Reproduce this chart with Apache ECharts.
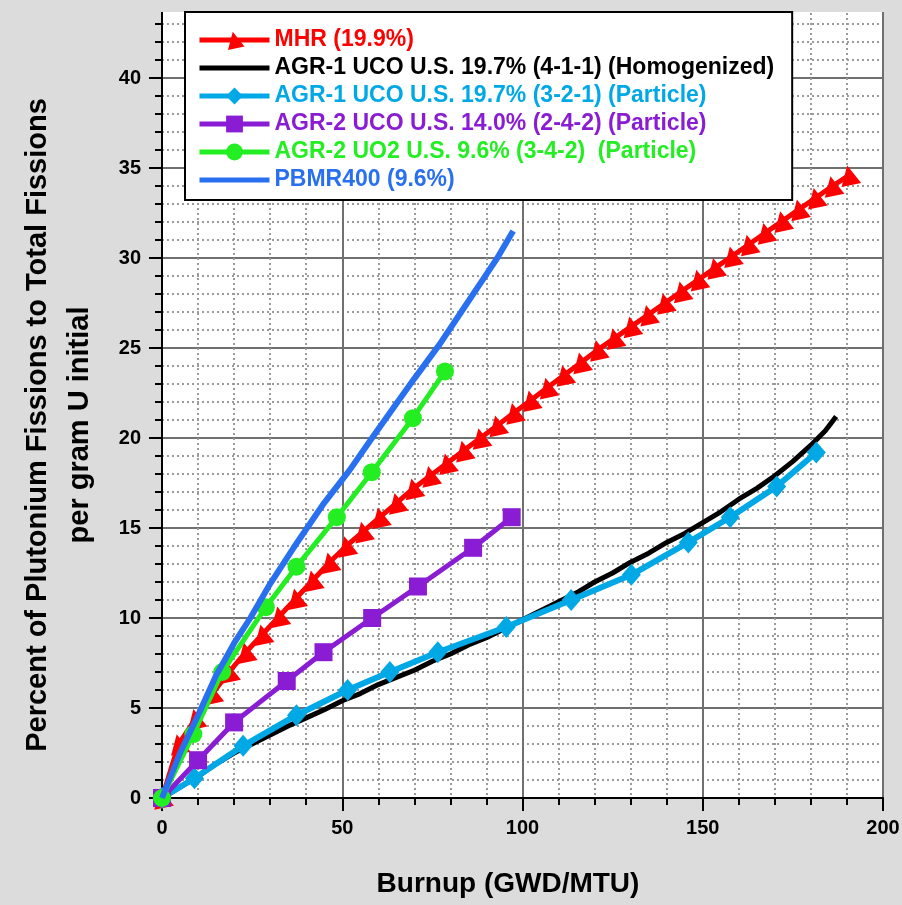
<!DOCTYPE html>
<html>
<head>
<meta charset="utf-8">
<script src="https://cdn.jsdelivr.net/npm/echarts@6/dist/echarts.min.js"></script>
<style>
html,body{margin:0;padding:0;background:#dcdcdc;}
#chart{width:902px;height:905px;}
</style>
</head>
<body>
<div id="chart"></div>
<script>
// ---- data ----
const seriesNames = [
  'MHR (19.9%)',
  'AGR-1 UCO U.S. 19.7% (4-1-1) (Homogenized)',
  'AGR-1 UCO U.S. 19.7% (3-2-1) (Particle)',
  'AGR-2 UCO U.S. 14.0% (2-4-2) (Particle)',
  'AGR-2 UO2 U.S. 9.6% (3-4-2)  (Particle)',
  'PBMR400 (9.6%)'
];
const mhrX = [0,4.65,9.3,13.95,18.6,23.25,27.9,32.55,37.2,41.85,46.5,51.15,55.8,60.45,65.1,69.75,74.4,79.05,83.7,88.35,93,97.65,102.3,106.95,111.6,116.25,120.9,125.55,130.2,134.85,139.5,144.15,148.8,153.45,158.1,162.75,167.4,172.05,176.7,181.35,186,190.65];
const mhrY = [0,3.0,4.4,5.8,7.0,8.1,9.1,10.1,11.1,12.1,13.1,14.0,14.8,15.6,16.4,17.2,17.9,18.6,19.3,20.0,20.7,21.4,22.1,22.8,23.5,24.2,24.9,25.55,26.2,26.85,27.5,28.15,28.8,29.45,30.1,30.75,31.4,32.05,32.7,33.35,34.0,34.6];
const agr1HomX = [0,5,10,15,20,25,30,35,40,45,50,55,60,65,70,75,80,85,90,95,100,105,110,115,120,125,130,135,140,145,150,155,160,165,170,175,180,184,187];
const agr1HomY = [0,0.6,1.2,1.9,2.5,3.0,3.5,4.0,4.45,4.9,5.4,5.8,6.3,6.7,7.1,7.6,8.0,8.5,8.9,9.4,9.9,10.4,10.9,11.4,12.0,12.5,13.1,13.6,14.2,14.7,15.3,15.9,16.6,17.2,17.9,18.7,19.6,20.4,21.2];
const agr1PartX = [0,9,22.5,37.3,51.5,63.2,76.5,95.5,113.5,130.2,146,157.6,170.5,181.5];
const agr1PartY = [0,1.1,2.9,4.6,6.0,7.0,8.1,9.5,11.0,12.4,14.2,15.6,17.3,19.2];
const agr2UcoX = [0,10,20,34.6,44.8,58.3,71,86.3,97];
const agr2UcoY = [0,2.1,4.2,6.5,8.1,10.0,11.75,13.9,15.6];
const agr2Uo2X = [0,8.7,16.7,28.8,37.3,48.5,58.2,69.6,78.5];
const agr2Uo2Y = [0,3.55,7.0,10.6,12.85,15.6,18.1,21.1,23.7];
const pbmrX = [0,5,10,15,20,24.5,30,36.5,45,52,58.6,65,70,77,83,89,93,97.4];
const pbmrY = [0,2.5,4.6,6.8,8.6,10.0,11.9,13.9,16.4,18.2,20.1,21.9,23.3,25.2,27.0,28.8,30.0,31.5];
const xTicks = [0,50,100,150,200];
const yTicks = [0,5,10,15,20,25,30,35,40];
const xTitle = 'Burnup (GWD/MTU)';
const yTitle1 = 'Percent of Plutonium Fissions to Total Fissions';
const yTitle2 = 'per gram U initial';

// ---- styling ----
const FONT = "'Liberation Sans', Arial, sans-serif";
const colors = ['#ff0000','#000000','#00a8e6','#8a1cd4','#22ee22','#2870f0'];
const zip = (xs, ys) => xs.map((x, i) => [x, ys[i]]);

const seriesDefs = [
  {x: mhrX, y: mhrY, symbol: 'triangle', size: 20, width: 5, rotate: 12},
  {x: agr1HomX, y: agr1HomY, symbol: 'none', size: 0, width: 5},
  {x: agr1PartX, y: agr1PartY, symbol: 'diamond', size: [19, 22], width: 6},
  {x: agr2UcoX, y: agr2UcoY, symbol: 'rect', size: 18, width: 5},
  {x: agr2Uo2X, y: agr2Uo2Y, symbol: 'circle', size: 18, width: 5},
  {x: pbmrX, y: pbmrY, symbol: 'none', size: 0, width: 6}
];

const chart = echarts.init(document.getElementById('chart'), null, {renderer: 'canvas'});

const axisCommon = {
  type: 'value',
  axisLine: {show: true, onZero: false, lineStyle: {color: '#000', width: 2}},
  axisTick: {show: true, inside: false, length: 13, lineStyle: {color: '#000', width: 2}},
  minorTick: {show: true, splitNumber: 5, length: 7, lineStyle: {color: '#000', width: 2}},
  splitLine: {show: true, lineStyle: {color: '#707070', width: 2}},
  minorSplitLine: {show: true, lineStyle: {color: '#9a9a9a', width: 2, type: [2, 3]}},
  axisLabel: {fontSize: 20, fontWeight: 'bold', color: '#000', fontFamily: FONT}
};

const option = {
  animation: false,
  backgroundColor: '#dcdcdc',
  grid: {left: 162, right: 19, top: -12, bottom: 107, outerBoundsMode: 'none', containLabel: false,
         show: true, backgroundColor: '#ffffff', borderColor: '#000', borderWidth: 2},
  xAxis: Object.assign({}, axisCommon, {
    min: xTicks[0], max: xTicks[xTicks.length - 1], interval: xTicks[1] - xTicks[0],
    axisLabel: Object.assign({}, axisCommon.axisLabel, {margin: 20})
  }),
  yAxis: Object.assign({}, axisCommon, {
    min: yTicks[0], max: 45, interval: yTicks[1] - yTicks[0],
    axisLabel: Object.assign({}, axisCommon.axisLabel, {margin: 21,
      formatter: v => (yTicks.indexOf(v) >= 0 ? String(v) : '')})
  }),
  legend: {
    orient: 'vertical', left: 185, top: 12, z: 60,
    backgroundColor: '#fff', borderColor: '#000', borderWidth: 2,
    padding: [16, 18, 8, 12], itemGap: 4, itemWidth: 70, itemHeight: 21,
    selectedMode: false,
    lineStyle: {width: 5},
    textStyle: {fontSize: 23, fontWeight: 'bold', fontFamily: FONT, lineHeight: 24},
    data: seriesNames.map((n, i) => {
      const item = {name: n, textStyle: {color: colors[i]}};
      if (seriesDefs[i].symbol === 'none') item.itemStyle = {opacity: 0};
      return item;
    })
  },
  graphic: [
    {type: 'rect', z: 50, shape: {x: 0, y: 0, width: 902, height: 12}, style: {fill: '#dcdcdc'}},
    {type: 'text', z: 50, x: 508, y: 884, style: {text: xTitle, font: "bold 28px " + FONT, fill: '#000', align: 'center', verticalAlign: 'middle'}},
    {type: 'text', z: 50, x: 38, y: 425, rotation: Math.PI / 2, style: {text: yTitle1, font: "bold 29px " + FONT, fill: '#000', align: 'center', verticalAlign: 'middle'}},
    {type: 'text', z: 50, x: 80, y: 425, rotation: Math.PI / 2, style: {text: yTitle2, font: "bold 29px " + FONT, fill: '#000', align: 'center', verticalAlign: 'middle'}}
  ],
  series: seriesDefs.map((d, i) => ({
    name: seriesNames[i],
    type: 'line',
    data: zip(d.x, d.y),
    symbol: d.symbol,
    symbolSize: d.size,
    symbolRotate: d.rotate || 0,
    showSymbol: d.symbol !== 'none',
    color: colors[i],
    lineStyle: {color: colors[i], width: d.width},
    itemStyle: {color: colors[i]},
    z: 3 + i
  }))
};
chart.setOption(option);
</script>
</body>
</html>
